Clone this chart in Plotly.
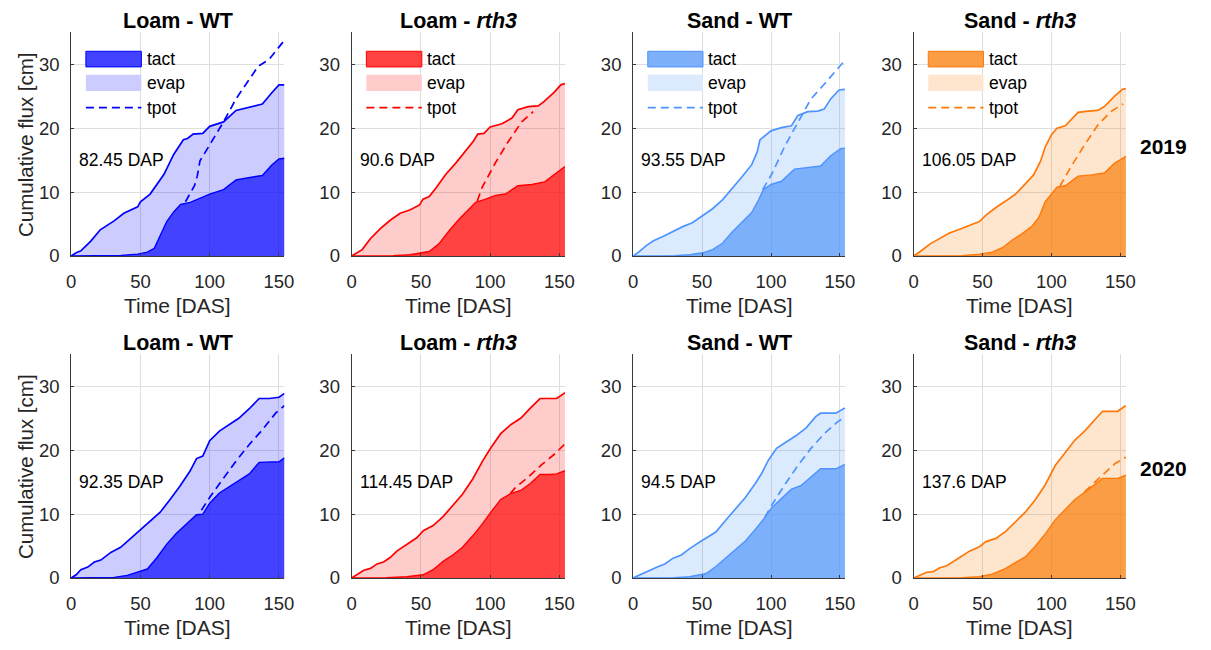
import plotly.graph_objects as go

FONT = "Liberation Sans, Arial, sans-serif"
W, H = 1211, 650

# ---- panel order: 2019 row then 2020 row; Loam-WT, Loam-rth3, Sand-WT, Sand-rth3
panel_titles = ["Loam - WT", "Loam - <i>rth3</i>", "Sand - WT", "Sand - <i>rth3</i>"] * 2
year_labels = ["2019", "2020"]
dap_labels = ["82.45 DAP", "90.6 DAP", "93.55 DAP", "106.05 DAP",
              "92.35 DAP", "114.45 DAP", "94.5 DAP", "137.6 DAP"]
series_names = ["tact", "evap", "tpot"]
x_ticks = [0, 50, 100, 150]
y_ticks = [0, 10, 20, 30]

# ---- 2019, Loam - WT
lw19_total_x = [0, 3.6, 7, 14, 21, 31, 38, 48, 50, 57, 67, 74, 81, 84, 88, 95, 100, 110, 119, 129, 138, 145, 150, 154]
lw19_total_y = [0, 0.5, 0.8, 2.3, 4.1, 5.5, 6.7, 7.7, 8.5, 9.7, 12.8, 15.9, 18.2, 18.4, 19.1, 19.2, 20.3, 21.0, 22.8, 23.3, 23.8, 25.6, 26.8, 26.8]
lw19_tact_x = [0, 36, 48, 55, 60, 64, 69, 74, 79, 86, 93, 100, 110, 119, 129, 138, 145, 150, 154]
lw19_tact_y = [0, 0.1, 0.3, 0.6, 1.2, 3.1, 5.4, 6.9, 8.1, 8.4, 9.0, 9.7, 10.4, 11.9, 12.3, 12.6, 14.3, 15.2, 15.3]
lw19_tpot_x = [82.5, 89, 91, 93, 100, 110, 119, 129, 135, 143, 154]
lw19_tpot_y = [8.5, 11.0, 12.5, 14.9, 17.4, 21.0, 24.6, 27.7, 29.7, 30.8, 33.8]

# ---- 2019, Loam - rth3
lr19_total_x = [0, 4, 7.6, 13.5, 20.7, 27.8, 35, 42, 49, 51.5, 56, 61, 68, 75, 82, 88, 91, 95.5, 100, 108.5, 115.7, 120, 127.5, 134.7, 139, 146.5, 151, 154]
lr19_total_y = [0, 0.6, 1.0, 2.7, 4.3, 5.6, 6.7, 7.2, 8.0, 8.9, 9.3, 10.7, 12.8, 14.5, 16.4, 18.0, 19.1, 19.2, 20.2, 20.7, 21.6, 22.9, 23.4, 23.5, 24.2, 25.7, 26.8, 27.0]
lr19_tact_x = [0, 30, 42, 49, 56, 63.4, 70.5, 77.7, 84.8, 89.5, 96.7, 103.8, 111, 120, 130, 139.4, 146.5, 154]
lr19_tact_y = [0, 0.05, 0.2, 0.4, 0.7, 2.0, 4.0, 5.8, 7.4, 8.4, 8.9, 9.5, 9.7, 11.0, 11.2, 11.6, 12.8, 14.0]
lr19_tpot_x = [90.7, 94.3, 103.8, 113, 122.8, 131]
lr19_tpot_y = [8.6, 10.8, 14.6, 17.9, 21.0, 22.6]

# ---- 2019, Sand - WT
sw19_total_x = [0, 4, 10, 14.8, 22, 29, 36, 43, 50, 57.6, 64.8, 72, 79, 86, 90, 92, 95.7, 100, 107.6, 114.8, 119.5, 126.7, 133.8, 138.6, 143.3, 149.3, 153.6]
sw19_total_y = [0, 0.6, 1.7, 2.4, 3.1, 3.9, 4.6, 5.2, 6.3, 7.4, 8.8, 10.6, 12.4, 14.3, 16.3, 18.2, 18.9, 19.6, 20.1, 20.4, 22.0, 22.6, 22.7, 23.0, 24.6, 26.0, 26.1]
sw19_tact_x = [0, 30, 41, 50.5, 57.6, 64.8, 72, 79, 86, 91, 94.5, 100, 107.6, 117, 126.7, 136, 143.3, 150.5, 153.6]
sw19_tact_y = [0, 0.05, 0.2, 0.5, 1.0, 2.0, 3.8, 5.3, 6.8, 8.8, 10.4, 11.2, 11.7, 13.6, 13.8, 14.1, 15.7, 16.8, 16.9]
sw19_tpot_x = [94, 100.5, 110, 119.5, 129, 138.6, 148, 153]
sw19_tpot_y = [10.4, 12.8, 17.2, 21.0, 24.6, 26.9, 29.2, 30.5]

# ---- 2019, Sand - rth3
sr19_total_x = [0, 4.8, 12, 19, 26, 33.4, 40.5, 47.7, 52.5, 59.7, 66.8, 74, 81, 87, 92, 95.5, 100, 104, 110, 114.5, 119.3, 126.5, 133.6, 138.4, 145.6, 151.5, 154]
sr19_total_y = [0, 0.7, 1.9, 2.8, 3.6, 4.2, 4.8, 5.4, 6.4, 7.6, 8.6, 9.7, 11.3, 12.7, 14.8, 17.1, 19.0, 20.0, 20.4, 21.4, 22.5, 22.7, 22.8, 23.4, 25.0, 26.1, 26.2]
sr19_tact_x = [0, 35, 47.7, 57, 64.4, 71.6, 78.8, 86, 90.7, 95.5, 100, 104, 110, 119.3, 129, 138.4, 145.6, 154]
sr19_tact_y = [0, 0.05, 0.3, 0.6, 1.3, 2.5, 3.5, 4.7, 6.0, 8.5, 9.7, 10.8, 11.0, 12.5, 12.7, 13.0, 14.5, 15.6]
sr19_tpot_x = [106, 114.5, 124, 133.6, 143, 152]
sr19_tpot_y = [10.9, 14.1, 17.4, 20.5, 22.6, 23.8]

# ---- 2020, Loam - WT
lw20_total_x = [0, 3.6, 7, 12, 16.7, 21.4, 28.6, 35.7, 43, 50, 57, 64.3, 71.4, 78.6, 85.7, 90.5, 95, 100, 107, 114, 121, 128.6, 135.7, 143, 150, 154]
lw20_total_y = [0, 0.5, 1.3, 1.7, 2.5, 2.8, 4.0, 4.8, 6.2, 7.5, 8.8, 10.3, 12.3, 14.4, 16.7, 18.7, 19.1, 21.5, 23.0, 24.0, 25.0, 26.5, 28.1, 28.1, 28.3, 28.9]
lw20_tact_x = [0, 20, 31, 40.5, 50, 55, 62, 69, 76, 83, 90.5, 95, 100, 107, 114, 121, 128.6, 135.7, 143, 150, 154]
lw20_tact_y = [0, 0.02, 0.1, 0.4, 1.0, 1.4, 3.2, 5.3, 7.0, 8.4, 9.9, 10.0, 11.7, 13.3, 14.3, 15.2, 16.3, 18.1, 18.1, 18.2, 18.8]
lw20_tpot_x = [94, 100, 109.5, 119, 128.6, 138, 147.6, 154]
lw20_tpot_y = [10.6, 12.6, 15.5, 18.3, 20.9, 23.2, 25.8, 27.0]

# ---- 2020, Loam - rth3
lr20_total_x = [0, 4, 8.8, 13.6, 18.3, 23, 27.8, 32.6, 39.8, 47, 51.7, 58.8, 66, 73, 80, 87.4, 94.5, 100.5, 107.6, 114.8, 122, 129, 136, 143, 148, 154]
lr20_total_y = [0, 0.5, 1.2, 1.5, 2.2, 2.5, 3.2, 4.2, 5.2, 6.3, 7.4, 8.2, 9.6, 11.3, 13.1, 15.5, 18.3, 20.4, 22.6, 24.0, 25.0, 26.6, 28.1, 28.1, 28.1, 29.0]
lr20_tact_x = [0, 25, 39.8, 51.7, 58.8, 66, 73, 80, 87.4, 94.5, 100.5, 107.6, 114.8, 122, 129, 136, 143, 148, 154]
lr20_tact_y = [0, 0.05, 0.2, 0.5, 1.3, 2.6, 3.6, 4.8, 6.6, 8.5, 10.3, 12.3, 13.2, 13.7, 14.8, 16.2, 16.2, 16.3, 16.8]
lr20_tpot_x = [114.5, 118, 128, 137, 147, 154]
lr20_tpot_y = [13.2, 14.1, 15.9, 17.7, 19.5, 21.0]

# ---- 2020, Sand - WT
sw20_total_x = [0, 4, 8.8, 13.6, 18.3, 23, 29, 35, 41, 48, 53, 60, 67, 74, 81.4, 88.6, 93.3, 98, 104, 111, 118.3, 125.5, 132.6, 136, 147, 153.6]
sw20_total_y = [0, 0.4, 0.9, 1.4, 1.8, 2.2, 3.1, 3.6, 4.6, 5.6, 6.3, 7.2, 9.0, 10.8, 12.6, 14.8, 16.4, 18.4, 20.3, 21.3, 22.3, 23.5, 25.3, 25.8, 25.8, 26.6]
sw20_tact_x = [0, 30, 41, 53, 60, 67, 74, 81.4, 88.6, 95.7, 100.5, 107.6, 114.8, 122, 129, 136, 147, 153.6]
sw20_tact_y = [0, 0.05, 0.2, 0.7, 1.8, 3.1, 4.3, 5.8, 7.6, 9.5, 11.0, 12.5, 13.9, 14.5, 15.8, 17.1, 17.1, 17.8]
sw20_tpot_x = [95.5, 100.5, 110, 119.5, 129, 138.6, 148, 153.6]
sw20_tpot_y = [9.5, 11.4, 14.6, 17.6, 20.3, 22.6, 24.4, 25.2]

# ---- 2020, Sand - rth3
sr20_total_x = [0, 4.8, 9.5, 14.3, 19, 24, 28.6, 33.4, 40.5, 47.7, 52.5, 59.7, 66.8, 74, 81, 88.4, 95.5, 102.7, 110, 117, 124, 131, 137, 148, 154]
sr20_total_y = [0, 0.4, 0.9, 1.0, 1.6, 1.9, 2.6, 3.2, 4.2, 4.9, 5.7, 6.2, 7.3, 8.8, 10.3, 12.3, 14.6, 17.6, 19.6, 21.6, 23.0, 24.6, 26.1, 26.1, 27.0]
sr20_tact_x = [0, 35, 47.7, 57, 66.8, 74, 81, 88.4, 95.5, 102.7, 110, 117, 124, 131, 137, 148, 154]
sr20_tact_y = [0, 0.05, 0.2, 0.6, 1.5, 2.4, 3.3, 5.0, 6.9, 9.1, 10.8, 12.3, 13.4, 14.6, 15.6, 15.6, 16.1]
sr20_tpot_x = [124, 131, 138, 146, 154]
sr20_tpot_y = [13.5, 14.9, 16.4, 17.9, 18.9]

panels = [
    (lw19_total_x, lw19_total_y, lw19_tact_x, lw19_tact_y, lw19_tpot_x, lw19_tpot_y),
    (lr19_total_x, lr19_total_y, lr19_tact_x, lr19_tact_y, lr19_tpot_x, lr19_tpot_y),
    (sw19_total_x, sw19_total_y, sw19_tact_x, sw19_tact_y, sw19_tpot_x, sw19_tpot_y),
    (sr19_total_x, sr19_total_y, sr19_tact_x, sr19_tact_y, sr19_tpot_x, sr19_tpot_y),
    (lw20_total_x, lw20_total_y, lw20_tact_x, lw20_tact_y, lw20_tpot_x, lw20_tpot_y),
    (lr20_total_x, lr20_total_y, lr20_tact_x, lr20_tact_y, lr20_tpot_x, lr20_tpot_y),
    (sw20_total_x, sw20_total_y, sw20_tact_x, sw20_tact_y, sw20_tpot_x, sw20_tpot_y),
    (sr20_total_x, sr20_total_y, sr20_tact_x, sr20_tact_y, sr20_tpot_x, sr20_tpot_y),
]

# base colour of each treatment (per column)
base_rgb = [(0, 0, 255), (255, 0, 0), (80, 148, 248), (248, 123, 4)]
line_rgb = [(0, 0, 255), (255, 0, 0), (77, 148, 255), (255, 120, 10)]
TACT_ALPHA, EVAP_ALPHA = 0.74, 0.2


def rgba(c, a):
    return f"rgba({c[0]},{c[1]},{c[2]},{a})"


def blend(c, a):
    return "rgb({},{},{})".format(*[round(255 - a * (255 - v)) for v in c])


# panel placement in pixels: (left, right) per column, (top, bottom) per row
col_px = [(67, 283), (351, 567), (636, 851), (920, 1135)]
row_px = [(33, 260), (360, 587)]

fig = go.Figure()
layout = dict(
    width=W, height=H,
    margin=dict(l=0, r=0, t=0, b=0),
    paper_bgcolor="white", plot_bgcolor="white",
    showlegend=False,
    font=dict(family=FONT, size=18, color="#262626"),
)
annotations, shapes = [], []

for k, (tx, ty, ax_, ay_, px_, py_) in enumerate(panels):
    r, c = divmod(k, 4)
    n = k + 1
    xa, ya = f"x{n}" if n > 1 else "x", f"y{n}" if n > 1 else "y"
    base, lc = base_rgb[c], line_rgb[c]
    lcol = "rgb({},{},{})".format(*lc)

    fig.add_trace(go.Scatter(x=ax_, y=ay_, mode="lines", fill="tozeroy",
                             fillcolor=rgba(base, TACT_ALPHA),
                             line=dict(color=lcol, width=1.4),
                             xaxis=xa, yaxis=ya, name="tact", hoverinfo="skip"))
    fig.add_trace(go.Scatter(x=tx, y=ty, mode="lines", fill="tonexty",
                             fillcolor=rgba(base, EVAP_ALPHA),
                             line=dict(color=lcol, width=1.7),
                             xaxis=xa, yaxis=ya, name="evap", hoverinfo="skip"))
    fig.add_trace(go.Scatter(x=px_, y=py_, mode="lines",
                             line=dict(color=lcol, width=1.7, dash="8px,5px"),
                             xaxis=xa, yaxis=ya, name="tpot", hoverinfo="skip"))

    x0p, x1p = col_px[c]
    y0p, y1p = row_px[r]
    axis_common = dict(showline=True, linecolor="#3a3a3a", linewidth=1,
                       showgrid=True, gridcolor="#dedede", gridwidth=1,
                       zeroline=False, ticks="inside", ticklen=3,
                       tickcolor="#3a3a3a", tickfont=dict(size=18.5, color="#262626"))
    layout["xaxis" + (str(n) if n > 1 else "")] = dict(
        axis_common, domain=[x0p / W, x1p / W], anchor=ya, range=[0, 154],
        tickvals=x_ticks, ticklabelstandoff=9)
    layout["yaxis" + (str(n) if n > 1 else "")] = dict(
        axis_common, domain=[1 - y1p / H, 1 - y0p / H], anchor=xa, range=[0, 35],
        tickvals=y_ticks, ticklabelstandoff=7)

    cx = (x0p + x1p) / 2 / W
    # panel title
    annotations.append(dict(text=f"<b>{panel_titles[k]}</b>", xref="paper", yref="paper",
                            x=cx, y=1 - (y0p - 12) / H, xanchor="center", yanchor="middle",
                            showarrow=False, font=dict(size=21.5, color="black")))
    # x axis title
    annotations.append(dict(text="Time [DAS]", xref="paper", yref="paper",
                            x=cx, y=1 - (y1p + 50) / H, xanchor="center", yanchor="middle",
                            showarrow=False, font=dict(size=21, color="#262626")))
    # days after planting label
    annotations.append(dict(text=dap_labels[k], xref=xa, yref=ya, x=4.3, y=15,
                            xanchor="left", yanchor="middle", showarrow=False,
                            font=dict(size=17.5, color="black")))

    if r == 0:
        xd, yd = f"{xa} domain", f"{ya} domain"
        tact_c, evap_c = blend(base, TACT_ALPHA), blend(base, EVAP_ALPHA)
        shapes.append(dict(type="rect", xref=xd, yref=yd, x0=0.069, x1=0.329,
                           y0=0.846, y1=0.916, fillcolor=tact_c,
                           line=dict(color=lcol, width=1), layer="above"))
        shapes.append(dict(type="rect", xref=xd, yref=yd, x0=0.069, x1=0.329,
                           y0=0.738, y1=0.811, fillcolor=evap_c,
                           line=dict(width=0), layer="above"))
        shapes.append(dict(type="line", xref=xd, yref=yd, x0=0.069, x1=0.329,
                           y0=0.664, y1=0.664,
                           line=dict(color=lcol, width=1.7, dash="8px,5px"), layer="above"))
        for name, yy in zip(series_names, [0.881, 0.774, 0.664]):
            annotations.append(dict(text=name, xref=xd, yref=yd, x=0.345, y=yy,
                                    xanchor="left", yanchor="middle", showarrow=False,
                                    font=dict(size=17.5, color="black")))

# y axis titles on the first column
for r in range(2):
    y0p, y1p = row_px[r]
    annotations.append(dict(text="Cumulative flux [cm]", xref="paper", yref="paper",
                            x=20 / W, y=1 - (y0p + y1p) / 2 / H, textangle=-90,
                            xanchor="center", yanchor="middle", showarrow=False,
                            font=dict(size=20.5, color="#262626")))
    # year label at right side
    annotations.append(dict(text=f"<b>{year_labels[r]}</b>", xref="paper", yref="paper",
                            x=1173 / W, y=1 - ((149, 476)[r]) / H,
                            xanchor="center", yanchor="middle", showarrow=False,
                            font=dict(size=21, color="black")))

layout["annotations"] = annotations
layout["shapes"] = shapes
fig.update_layout(**layout)
fig.write_html("out.html")
